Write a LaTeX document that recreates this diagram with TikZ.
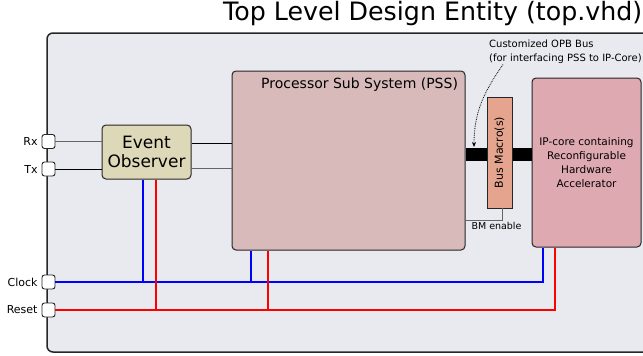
\documentclass[tikz,border=0pt]{standalone}
\usepackage{fontspec}
\setmainfont{DejaVu Sans}
\usetikzlibrary{positioning,arrows.meta}
\definecolor{framebg}{HTML}{E9EAF0}
\definecolor{eofill}{HTML}{DDD8B8}
\definecolor{pssfill}{HTML}{D8BABA}
\definecolor{ipfill}{HTML}{DFA9B1}
\definecolor{bmfill}{HTML}{E5A48E}

\begin{document}
\begin{tikzpicture}[
	x=1pt, y=-1pt,
	block/.style={draw=black!85, line width=1pt, rounded corners=4pt, inner sep=2pt},
	port/.style={draw=black!85, fill=white, rounded corners=2.5pt, minimum width=13pt,
		minimum height=14pt, inner sep=0pt, line width=0.9pt,
		label={[font=\fontsize{11}{13}\selectfont, label distance=0.5pt]left:#1}},
	wire/.style={line width=0.9pt, black!75},
	clkwire/.style={line width=1.3pt, blue},
	rstwire/.style={line width=1.3pt, red}]
\useasboundingbox (0,0) rectangle (643,356);
\clip (0,0) rectangle (643,356);

\node[anchor=base east, font=\fontsize{25.3}{29}\selectfont, inner sep=0pt] (title) at (642.5,20) {Top Level Design Entity (top.vhd)};
\draw[draw=black!85, fill=framebg, line width=1.5pt, rounded corners=6pt] (47,33) rectangle (680,352);

\node[port=Rx] (rx) at (48.5,141.5) {};
\node[port=Tx] (tx) at (48.5,169) {};
\node[port=Clock] (clk) at (48.5,282) {};
\node[port=Reset] (rst) at (48.5,310) {};

\node[block, fill=eofill, minimum width=89pt, minimum height=54pt, align=center,
	font=\fontsize{17}{19}\selectfont] (eo) at (146.5,152) {Event\\Observer};
\node[block, fill=pssfill, minimum width=233pt, minimum height=179pt] (pss) at (348.5,160.5) {};
\node[anchor=north east, font=\fontsize{14}{16}\selectfont] (psstitle) at ([xshift=-4pt,yshift=-4pt]pss.north east) {Processor Sub System (PSS)};
\node[block, fill=ipfill, minimum width=109pt, minimum height=169pt, align=center,
	font=\fontsize{10.5}{14}\selectfont] (ip) at (586.5,162.5)
	{IP-core containing\\Reconfigurable\\Hardware\\Accelerator};

\draw[line width=13pt] (pss.east |- 0,154.5) -- (ip.west |- 0,154.5);
\node[draw=black!85, fill=bmfill, line width=0.9pt, rotate=90, minimum width=111pt, minimum height=25pt,
	inner sep=0pt, font=\fontsize{11}{13}\selectfont] (bm) at (499.5,152.5) {Bus Macro(s)};

\draw[wire, black!60] ([xshift=3pt]bm.west) |- (pss.east |- 0,220);
\node[anchor=north, font=\fontsize{9.5}{11}\selectfont, inner sep=1pt] (bmen) at (496.5,221) {BM enable};

\node[anchor=north west, align=left, inner sep=0pt, font=\fontsize{10}{13.5}\selectfont] (opb) at (489,40)
	{Customized OPB Bus\\(for interfacing PSS to IP-Core)};
\draw[densely dotted, line width=0.8pt, -{Stealth[length=5pt,width=4pt]}] ([xshift=14pt,yshift=-1pt]opb.south west)
	to[out=235,in=90] (474,147);

\draw[wire, black!60] (rx) -- (eo.west |- rx);
\draw[wire, black] (tx) -- (eo.west |- tx);
\draw[wire, black] (eo.east |- 0,143) -- (pss.west |- 0,143);
\draw[wire, black!60] (eo.east |- 0,168) -- (pss.west |- 0,168);

\draw[clkwire] (clk) -| (543,0 |- ip.south);
\draw[clkwire] (143,0 |- eo.south) -- (143,0 |- clk);
\draw[clkwire] (251,0 |- pss.south) -- (251,0 |- clk);
\draw[rstwire] (rst) -| (555,0 |- ip.south);
\draw[rstwire] (156,0 |- eo.south) -- (156,0 |- rst);
\draw[rstwire] (268,0 |- pss.south) -- (268,0 |- rst);
\end{tikzpicture}
\end{document}
